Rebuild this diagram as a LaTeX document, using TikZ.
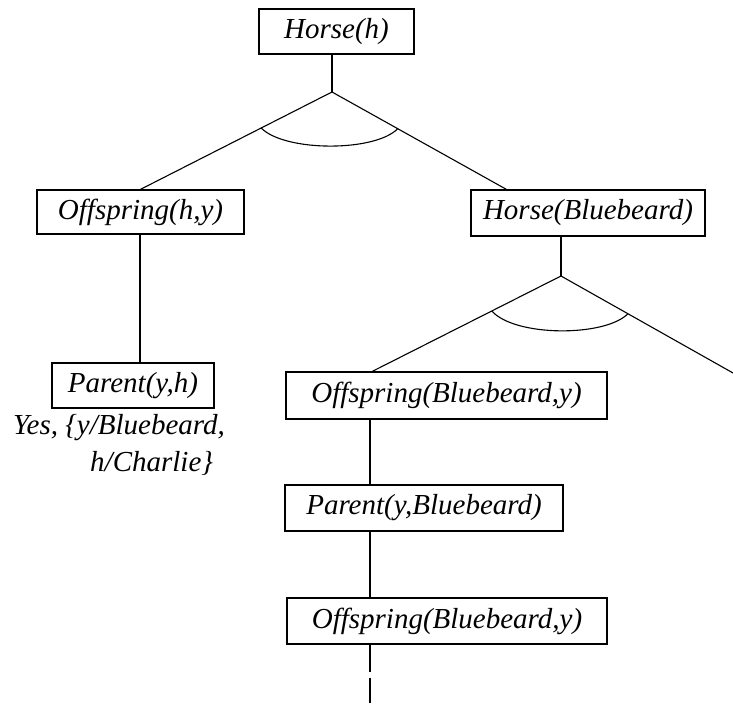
\documentclass[tikz,border=0pt]{standalone}
\usepackage{fontspec}
\setmainfont{Liberation Serif}
\begin{document}
\begin{tikzpicture}[x=1pt,y=-1pt,
    goal/.style={draw=black,line width=1.3pt,inner sep=0pt,font=\fontsize{29}{34}\selectfont\itshape},
    link/.style={line width=1.1pt}]
    \useasboundingbox (0,0) rectangle (733,709);
    \clip (0,0) rectangle (733,709);
    \node[goal,minimum width=155pt,minimum height=45pt] (horseh)  at (336.5, 31.5) {Horse(h)};
    \node[goal,minimum width=207pt,minimum height=44pt] (offhy)   at (140.5,212.0) {Offspring(h,y)};
    \node[goal,minimum width=234pt,minimum height=46pt] (horsebb) at (588.0,213.0) {Horse(Bluebeard)};
    \node[goal,minimum width=162pt,minimum height=45pt] (parhy)   at (133.0,385.5) {Parent(y,h)};
    \node[goal,minimum width=321pt,minimum height=47pt] (offbb)   at (446.5,395.5) {Offspring(Bluebeard,y)};
    \node[goal,minimum width=278pt,minimum height=46pt] (parbb)   at (424.0,508.0) {Parent(y,Bluebeard)};
    \node[goal,minimum width=320pt,minimum height=46pt] (offbbb)  at (447.0,621.0) {Offspring(Bluebeard,y)};
    \node[anchor=north west,inner sep=0pt,align=left,font=\fontsize{29}{37}\selectfont\itshape]
                                                        (answer)  at ( 13.0,414.0) {Yes, \{y/Bluebeard,\\\hspace*{77pt}h/Charlie\}};
    \coordinate (fork1) at (332,92);
    \coordinate (fork2) at (561,276);
    \coordinate (stem)  at (370,0);
    \coordinate (cut)   at (749,382);
    \coordinate (tail)  at (370,703);
    % first and-node
    \draw[link] (fork1 |- horseh.south) -- (fork1);
    \draw[link] (fork1) -- coordinate[pos=0.37] (and1l) (offhy.north);
    \draw[link] (fork1) -- coordinate[pos=0.377] (and1r) ([xshift=36pt]horsebb.north west);
    \draw[link] (and1l) .. controls (285,152) and (375,152) .. (and1r);
    % second and-node
    \draw[link] (fork2 |- horsebb.south) -- (fork2);
    \draw[link] (fork2) -- coordinate[pos=0.367] (and2l) ([xshift=87pt]offbb.north west);
    \draw[link] (fork2) -- coordinate[pos=0.356] (and2r) (cut);
    \draw[link] (and2l) .. controls (515,337) and (605,337) .. (and2r);
    % chains
    \draw[link] (offhy.south -| 140,0) -- (parhy.north -| 140,0);
    \draw[link] (stem |- offbb.south) -- (stem |- parbb.north);
    \draw[link] (stem |- parbb.south) -- (stem |- offbbb.north);
    \draw[link,dash pattern=on 27pt off 6pt] (stem |- offbbb.south) -- (tail);
  \end{tikzpicture}
\end{document}
